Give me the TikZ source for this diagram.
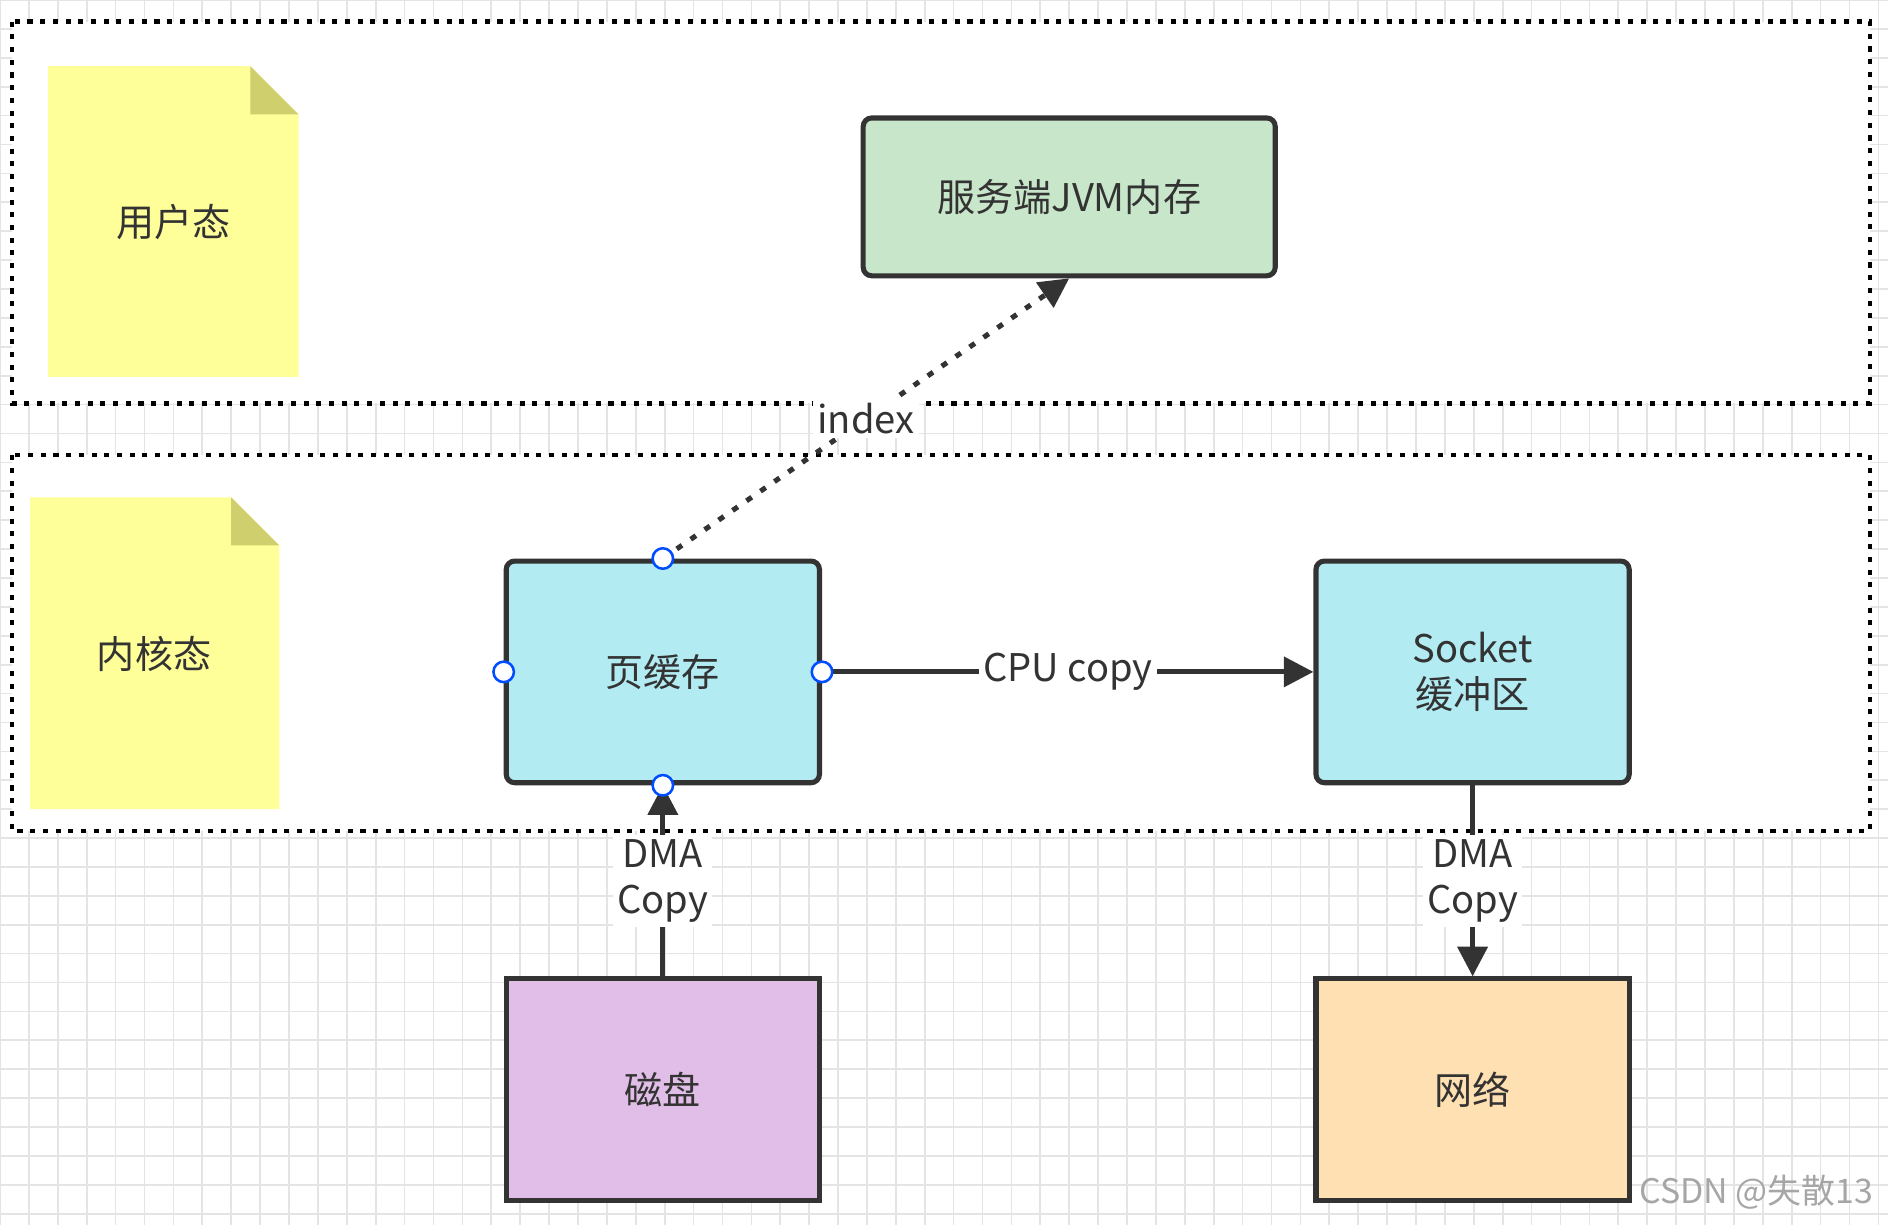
\documentclass[tikz,border=0pt]{standalone}
\usepackage{fontspec}
\setmainfont{Noto Sans CJK SC}
\usetikzlibrary{arrows.meta}
\definecolor{gridc}{HTML}{E4E4E4}
\definecolor{notey}{HTML}{FFFF99}
\definecolor{foldc}{HTML}{CFCF6E}
\definecolor{greenb}{HTML}{C8E6C9}
\definecolor{cyanb}{HTML}{B2EBF2}
\definecolor{purpb}{HTML}{E1BEE7}
\definecolor{orangeb}{HTML}{FFE0B2}
\definecolor{edgec}{HTML}{333333}
\begin{document}
\begin{tikzpicture}[x=0.01cm,y=-0.01cm,
  every node/.style={font=\fontsize{9}{11}\selectfont, text=edgec},
  box/.style={draw=edgec, line width=1.2pt, rounded corners=2pt, minimum width=2.6cm, minimum height=1.84cm},
  zone/.style={draw=black, line width=1.1pt, dash pattern=on 1.2pt off 1.8pt, fill=white},
  note/.style={fill=notey},
  fold/.style={fill=foldc},
  conn/.style={draw=edgec, line width=1.2pt, -{Triangle[length=7pt,width=7pt]}},
  lab/.style={fill=white, inner sep=1pt, align=center},
  port/.style={circle, draw=blue!70!cyan, fill=white, line width=0.6pt, minimum size=0.17cm, inner sep=0pt}]
\fill[white] (0,0) rectangle (1568,1017);
\useasboundingbox (0,0) rectangle (1568,1017);
\foreach \x in {0,24,...,1568} \draw[gridc, line width=0.4pt] (\x,0) -- (\x,1017);
\foreach \y in {0,24,...,1017} \draw[gridc, line width=0.4pt] (0,\y) -- (1568,\y);
\draw[zone] (10,18) rectangle (1553,335);
\draw[zone] (10,378) rectangle (1553,690);
% notes
\fill[note] (40,55) -- (208,55) -- (248,95) -- (248,313) -- (40,313) -- cycle;
\fill[fold] (208,55) -- (248,95) -- (208,95) -- cycle;
\node (user) at (144,184) {用户态};
\fill[note] (25,413) -- (192,413) -- (232,453) -- (232,672) -- (25,672) -- cycle;
\fill[fold] (192,413) -- (232,453) -- (192,453) -- cycle;
\node (kern) at (128,543) {内核态};
% boxes
\node[box, fill=greenb, minimum width=3.42cm, minimum height=1.31cm] (jvm) at (888,163.5) {服务端JVM内存};
\node[box, fill=cyanb] (page) at (550.5,558) {页缓存};
\node[box, fill=cyanb, align=center] (sock) at (1223,558) {Socket\\缓冲区};
\node[box, fill=purpb, rounded corners=0pt] (disk) at (550.5,905) {磁盘};
\node[box, fill=orangeb, rounded corners=0pt] (net) at (1223,905) {网络};
% connectors
\draw[conn, dash pattern=on 1.5pt off 2.5pt] (page.north) -- node[lab, pos=0.5, solid] {index} (jvm.south);
\draw[conn] (page.east) -- node[lab, pos=0.5] {CPU copy} (sock.west);
\draw[conn] (disk.north) -- node[lab, pos=0.5] {DMA\\Copy} (page.south);
\draw[conn] (sock.south) -- node[lab, pos=0.5] {DMA\\Copy} (net.north);
\node[port] (p1) at (page.north) {};
\node[port] (p2) at (page.south) {};
\node[port] (p3) at (page.west) {};
\node[port] (p4) at (page.east) {};
\node[text=gray!70, anchor=east, font=\fontsize{8}{10}\selectfont] (wm) at (1568,990) {CSDN @失散13};
\end{tikzpicture}
\end{document}
